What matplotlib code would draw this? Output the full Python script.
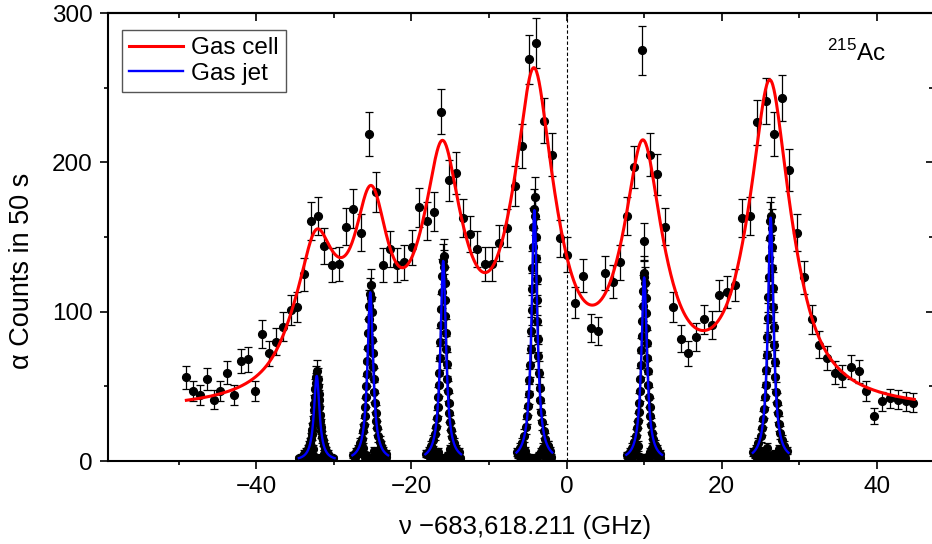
import numpy as np
import matplotlib
matplotlib.use('Agg')
import matplotlib.pyplot as plt

plt.rcParams['font.family'] = ['Liberation Sans', 'DejaVu Sans']
plt.rcParams['mathtext.fontset'] = 'custom'
plt.rcParams['mathtext.rm'] = 'Liberation Sans'
plt.rcParams['axes.unicode_minus'] = True

# ---------------- data ----------------
# gas cell data points (GHz, counts)
cell_x = [-49.0, -48.1, -47.3, -46.4, -45.5, -44.7, -43.7, -42.9, -41.9, -41.1,
          -40.2, -39.3, -38.3, -37.4, -36.5, -35.5, -34.7, -33.8, -33.0, -32.1,
          -31.2, -30.2, -29.3, -28.4, -27.5, -26.5, -25.5, -24.6, -23.7, -22.7,
          -21.8, -20.9, -19.9, -19.0, -18.0, -17.1, -16.2, -15.2, -14.3, -13.4,
          -12.4, -11.5, -10.5, -9.6, -8.7, -7.7, -6.7, -5.7, -4.8, -3.9,
          -2.9, -1.9, -0.9, 0.0, 1.1, 2.1, 3.1, 4.0, 5.0, 6.0,
          6.9, 7.8, 8.7, 9.7, 10.0, 10.7, 11.7, 12.7, 13.7, 14.8,
          15.7, 16.7, 17.7, 18.7, 19.7, 20.7, 21.7, 22.6, 23.7, 24.6,
          25.7, 26.7, 27.7, 28.7, 29.7, 30.6, 31.6, 32.5, 33.5, 34.6,
          35.5, 36.6, 37.7, 38.6, 39.6, 40.7, 41.7, 42.7, 43.7, 44.7]
cell_y = [56, 47, 44, 55, 41, 47, 59, 44, 67, 68,
          47, 85, 72, 80, 90, 101, 103, 125, 161, 164,
          144, 131, 132, 157, 169, 153, 219, 180, 131, 142,
          131, 133, 143, 170, 161, 167, 234, 188, 193, 163,
          152, 142, 132, 132, 146, 156, 184, 211, 269, 280,
          228, 205, 149, 138, 106, 124, 89, 87, 126, 120,
          133, 164, 197, 275, 147, 205, 192, 157, 103, 82,
          72, 83, 95, 91, 111, 113, 118, 163, 164, 227,
          241, 219, 243, 195, 153, 123, 95, 78, 69, 59,
          57, 63, 60, 47, 30, 40, 42, 41, 40, 39]

# gas cell fit curve: readings of the fitted curve used to fix the line-shape amplitudes
fit_x = [-48.9, -42.9, -40.4, -38.6, -36.9, -35.6, -34.8, -34.1, -33.7, -32.8,
         -32.3, -31.8, -30.9, -29.4, -27.5, -25.2, -23.2, -22.7, -21.0, -19.7,
         -18.0, -16.0, -14.6, -13.3, -12.4, -10.5, -8.6, -7.7, -6.6, -5.8,
         -5.1, -4.2, -3.0, -1.7, -0.5, 1.3, 3.2, 5.2, 6.9, 8.2,
         8.6, 9.9, 11.2, 12.5, 14.6, 17.2, 19.8, 21.5, 22.8, 23.6,
         24.7, 26.2, 27.5, 28.8, 29.7, 30.1, 31.8, 34.0, 37.0, 40.4,
         44.7]
fit_y = [41.5, 50, 56.5, 64.5, 74, 90, 112, 133, 144, 150,
         152, 150, 144, 137, 155, 183.5, 152.5, 135, 128, 147,
         170, 214, 193, 157, 142, 124, 144, 158, 184, 215,
         242, 264, 244, 208, 142, 117, 103.3, 117, 137, 177,
         190, 215, 193, 152.5, 105, 86.6, 99, 119, 148, 164,
         219, 258, 219, 175, 142, 135, 92, 65.4, 54, 46.4,
         40]
cell_centres = [-32.3, -25.2, -16.0, -4.2, 9.85, 26.2]
cell_sigma = 1.6
cell_gamma = 2.8
cell_range = [-49.0, 44.8]

# gas jet data points, one list pair per resonance
jet1_x = [-32.28, -32.34, -32.42, -32.46, -32.51, -32.57, -32.60, -32.70, -32.76, -32.84,
          -32.93, -33.08, -33.15, -33.31, -33.45, -33.77, -34.07, -34.46,
          -32.16, -32.09, -32.03, -31.97, -31.92, -31.86, -31.80, -31.74, -31.67, -31.60,
          -31.51, -31.42, -31.31, -31.18, -31.01, -30.79, -30.50, -30.15,
          -33.9, -33.3, -32.9, -31.5, -30.9, -30.4,
          -34.2, -33.6, -33.1, -32.7, -32.5, -31.9, -31.3, -30.7, -30.3, -32.0]
jet1_y = [56, 52, 48, 43, 38, 34, 29, 25, 21, 18,
          15, 12, 10, 8, 6, 4, 3, 2,
          60, 55, 50, 45, 41, 36, 31, 27, 23, 20,
          16, 14, 11, 9, 7, 5, 3, 2,
          5, 3, 1, 2, 4, 1,
          2, 6, 4, 8, 3, 2, 5, 3, 2, 1]
jet2_x = [-25.38, -25.44, -25.50, -25.56, -25.61, -25.67, -25.73, -25.80, -25.86, -25.94,
          -26.03, -26.13, -26.25, -26.41, -26.59, -26.87, -27.17, -27.56,
          -25.26, -25.19, -25.13, -25.07, -25.02, -24.96, -24.90, -24.84, -24.77, -24.70,
          -24.61, -24.52, -24.41, -24.28, -24.11, -23.89, -23.60, -23.25,
          -27.0, -26.6, -26.0, -24.6, -24.0, -23.5,
          -27.3, -26.8, -26.3, -25.9, -25.6, -25.0, -24.8, -24.3, -23.8, -23.3]
jet2_y = [112, 104, 95, 86, 76, 67, 58, 50, 43, 36,
          30, 24, 20, 15, 12, 8, 6, 4,
          118, 109, 100, 90, 81, 72, 63, 55, 46, 39,
          32, 27, 22, 17, 13, 10, 7, 5,
          5, 8, 3, 2, 6, 2,
          3, 6, 9, 4, 2, 3, 7, 4, 8, 3]
jet3_x = [-15.98, -16.04, -16.10, -16.16, -16.21, -16.27, -16.33, -16.40, -16.46, -16.54,
          -16.63, -16.73, -16.85, -17.01, -17.19, -17.47, -17.77, -18.16,
          -15.86, -15.79, -15.73, -15.67, -15.62, -15.56, -15.50, -15.44, -15.37, -15.30,
          -15.21, -15.12, -15.01, -14.88, -14.71, -14.49, -14.20, -13.85,
          -17.6, -17.0, -16.4, -15.3, -14.6, -14.1,
          -18.0, -17.3, -16.8, -16.6, -16.2, -15.6, -15.0, -14.8, -14.4, -13.8]
jet3_y = [134, 124, 113, 102, 91, 80, 69, 59, 51, 43,
          36, 29, 23, 18, 14, 10, 7, 5,
          137, 130, 119, 108, 97, 86, 75, 65, 55, 47,
          39, 32, 26, 21, 16, 12, 8, 6,
          3, 6, 2, 4, 2, 5,
          5, 9, 3, 6, 2, 3, 8, 5, 3, 2]
jet4_x = [-4.23, -4.29, -4.35, -4.41, -4.46, -4.52, -4.58, -4.65, -4.71, -4.79,
          -4.88, -4.98, -5.10, -5.26, -5.44, -5.72, -6.02, -6.41,
          -4.11, -4.04, -3.98, -3.92, -3.87, -3.81, -3.75, -3.69, -3.62, -3.55,
          -3.46, -3.37, -3.26, -3.13, -2.96, -2.74, -2.45, -2.10,
          -5.9, -5.3, -4.7, -3.5, -3.0, -2.6,
          -6.3, -5.7, -5.5, -5.0, -4.5, -3.8, -3.3, -2.8, -2.4, -2.0]
jet4_y = [169, 157, 143, 129, 115, 101, 87, 75, 64, 54,
          45, 37, 30, 23, 17, 12, 9, 6,
          177, 164, 150, 136, 122, 108, 94, 82, 70, 59,
          49, 41, 33, 26, 20, 15, 10, 7,
          3, 7, 2, 4, 9, 2,
          4, 10, 5, 3, 2, 3, 6, 4, 10, 3]
jet5_x = [9.92, 9.86, 9.80, 9.74, 9.69, 9.63, 9.57, 9.50, 9.44, 9.36,
          9.27, 9.17, 9.05, 8.89, 8.71, 8.43, 8.13, 7.74,
          10.04, 10.11, 10.17, 10.23, 10.28, 10.34, 10.40, 10.46, 10.53, 10.60,
          10.69, 10.78, 10.89, 11.02, 11.19, 11.41, 11.70, 12.05,
          8.3, 8.9, 9.5, 10.6, 11.2, 11.8,
          7.9, 8.5, 8.7, 9.2, 9.6, 10.3, 10.8, 11.0, 11.5, 12.0]
jet5_y = [123, 114, 104, 94, 84, 74, 64, 55, 47, 39,
          33, 27, 22, 17, 13, 9, 6, 4,
          126, 119, 109, 99, 89, 79, 69, 60, 51, 43,
          36, 30, 24, 19, 15, 11, 8, 5,
          2, 5, 3, 2, 6, 2,
          3, 8, 4, 10, 2, 3, 6, 9, 4, 2]
jet6_x = [26.22, 26.16, 26.10, 26.04, 25.99, 25.93, 25.87, 25.80, 25.74, 25.66,
          25.57, 25.47, 25.35, 25.19, 25.01, 24.73, 24.43, 24.04,
          26.34, 26.41, 26.47, 26.53, 26.58, 26.64, 26.70, 26.76, 26.83, 26.90,
          26.99, 27.08, 27.19, 27.32, 27.49, 27.71, 28.00, 28.35,
          24.6, 25.6, 26.3, 26.5, 27.0, 27.9,
          24.3, 24.9, 25.3, 25.8, 26.2, 26.6, 26.9, 27.4, 27.6, 28.2]
jet6_y = [161, 149, 136, 123, 110, 96, 83, 71, 61, 51,
          43, 35, 28, 22, 17, 12, 8, 6,
          164, 156, 143, 129, 116, 103, 90, 78, 66, 56,
          46, 39, 32, 25, 19, 14, 10, 7,
          3, 5, 2, 4, 3, 2,
          4, 7, 3, 9, 2, 3, 5, 8, 4, 2]

jet_centres = [-32.2, -25.3, -15.9, -4.15, 10.0, 26.3]
jet_heights = [57, 113, 134, 168, 123, 163]
jet_gamma = 0.43
jet_span = 2.3

x_ticks = [-40, -20, 0, 20, 40]
x_minor = [-50, -30, -10, 10, 30]
y_ticks = [0, 100, 200, 300]
y_minor = [50, 150, 250]

# ---------------- figure ----------------
W, H = 932, 544
fig = plt.figure(figsize=(W / 100, H / 100), dpi=100)
ax = fig.add_axes([108 / W, 83 / H, 826 / W, 448 / H])
ax.set_xlim(-59.1, 47.35)
ax.set_ylim(0, 300)

err_kw = dict(fmt='o', color='black', ms=5.6, ecolor='black', elinewidth=0.9,
              capsize=3, capthick=0.9, zorder=3)

jets = [(jet1_x, jet1_y), (jet2_x, jet2_y), (jet3_x, jet3_y),
        (jet4_x, jet4_y), (jet5_x, jet5_y), (jet6_x, jet6_y)]
for jx, jy in jets:
    jy_arr = np.asarray(jy, float)
    ax.errorbar(jx, jy_arr, yerr=np.sqrt(jy_arr), **err_kw)

cy = np.asarray(cell_y, float)
ax.errorbar(cell_x, cy, yerr=np.sqrt(cy), **err_kw)


def gauss(x, c, s):
    return np.exp(-0.5 * ((x - c) / s) ** 2)


def lor(x, c, g):
    return 1.0 / (1.0 + ((x - c) / g) ** 2)


def design(x):
    cols = [np.ones_like(x)]
    cols += [gauss(x, c, cell_sigma) for c in cell_centres]
    cols += [lor(x, c, cell_gamma) for c in cell_centres]
    return np.column_stack(cols)


fx = np.asarray(fit_x, float)
coef, *_ = np.linalg.lstsq(design(fx), np.asarray(fit_y, float), rcond=None)
xs = np.linspace(cell_range[0], cell_range[1], 1200)
ax.plot(xs, design(xs) @ coef, color='#ff0000', lw=2.2, zorder=5, label='Gas cell')

for i, (c, h) in enumerate(zip(jet_centres, jet_heights)):
    xj = np.linspace(c - jet_span, c + jet_span, 400)
    ax.plot(xj, h * lor(xj, c, jet_gamma), color='#0000ff', lw=1.7, zorder=5,
            label='Gas jet' if i == 0 else None)

ax.axvline(0, color='black', lw=0.8, ls=(0, (3, 2)), zorder=1)

# ticks
ax.set_xticks(x_ticks)
ax.set_xticks(x_minor, minor=True)
ax.set_yticks(y_ticks)
ax.set_yticks(y_minor, minor=True)
ax.tick_params(which='major', direction='out', length=6, width=1.2,
               labelsize=17.5, pad=5)
ax.tick_params(which='minor', direction='out', length=3.2, width=1.2)
for s in ax.spines.values():
    s.set_linewidth(1.5)

secx = ax.secondary_xaxis('top')
secx.set_xticks(x_ticks)
secx.set_xticks(x_minor, minor=True)
secx.tick_params(which='major', direction='in', length=6, width=1.2, labeltop=False)
secx.tick_params(which='minor', direction='in', length=3.5, width=1.2)
secx.spines['top'].set_linewidth(1.5)

secy = ax.secondary_yaxis('right')
secy.set_yticks(y_ticks)
secy.set_yticks(y_minor, minor=True)
secy.tick_params(which='major', direction='in', length=6, width=1.2, labelright=False)
secy.tick_params(which='minor', direction='in', length=3.5, width=1.2)

ax.set_xlabel('ν −683,618.211 (GHz)', fontsize=18.5)
ax.set_ylabel('α Counts in 50 s', fontsize=19.5)
ax.xaxis.set_label_coords(0.505, -0.121)
ax.yaxis.set_label_coords(-0.088, 0.425)

ax.text(0.871, 0.893, r'$^{215}$Ac', transform=ax.transAxes, fontsize=17.5,
        va='baseline', ha='left')

leg = ax.legend(loc='upper left', bbox_to_anchor=(0.017, 0.962), borderaxespad=0,
                frameon=True, fancybox=False, edgecolor='#555555', framealpha=1,
                handlelength=2.2, fontsize=17.5, borderpad=0.3, labelspacing=0.14,
                handletextpad=0.35)
leg.get_frame().set_linewidth(1.0)

fig.savefig('out.png', dpi=100)
